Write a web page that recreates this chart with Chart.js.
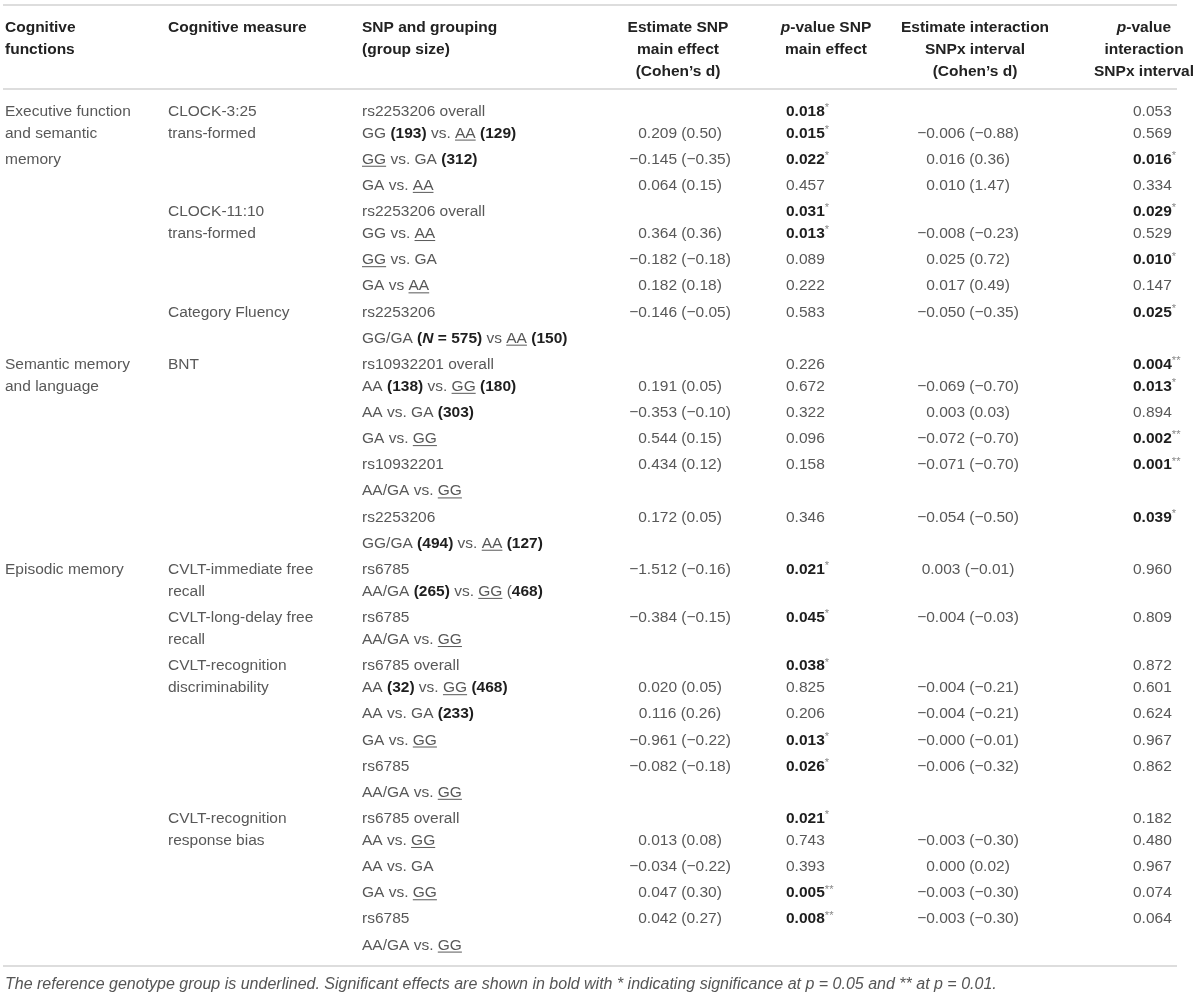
<!DOCTYPE html>
<html>
<head>
<meta charset="utf-8">
<title>CLOCK SNP table</title>
<script src="https://cdn.jsdelivr.net/npm/chart.js@4.4.1/dist/chart.umd.min.js"></script>
<style>
  html, body { margin: 0; padding: 0; background: #fff; }
</style>
</head>
<body>
<canvas id="tableChart" width="1200" height="997"></canvas>
<script>
// column headers
var headers = [
    'Cognitive\nfunctions',
    'Cognitive measure',
    'SNP and grouping\n(group size)',
    'Estimate SNP\nmain effect\n(Cohen\u2019s d)',
    '<i>p</i>-value SNP\nmain effect',
    'Estimate interaction\nSNPx interval\n(Cohen\u2019s d)',
    '<i>p</i>-value\ninteraction\nSNPx interval'
];

// first column: label and the table line it starts on
var functionLabels = ['Executive function\nand semantic\nmemory', 'Semantic memory\nand language', 'Episodic memory'];
var functionStart = [0, 10, 18];

// second column
var measureLabels = [
    'CLOCK-3:25\ntrans-formed',
    'CLOCK-11:10\ntrans-formed',
    'Category Fluency',
    'BNT',
    'CVLT-immediate free\nrecall',
    'CVLT-long-delay free\nrecall',
    'CVLT-recognition\ndiscriminability',
    'CVLT-recognition\nresponse bias'
];
var measureStart = [0, 4, 8, 10, 18, 20, 22, 28];

// one entry per table line
var groupings = [
    'rs2253206 overall',
    'GG <b>(193)</b> vs. <u>AA</u> <b>(129)</b>',
    '<u>GG</u> vs. GA <b>(312)</b>',
    'GA vs. <u>AA</u>',
    'rs2253206 overall',
    'GG vs. <u>AA</u>',
    '<u>GG</u> vs. GA',
    'GA vs <u>AA</u>',
    'rs2253206',
    'GG/GA <b>(<i>N</i> = 575)</b> vs <u>AA</u> <b>(150)</b>',
    'rs10932201 overall',
    'AA <b>(138)</b> vs. <u>GG</u> <b>(180)</b>',
    'AA vs. GA <b>(303)</b>',
    'GA vs. <u>GG</u>',
    'rs10932201',
    'AA/GA vs. <u>GG</u>',
    'rs2253206',
    'GG/GA <b>(494)</b> vs. <u>AA</u> <b>(127)</b>',
    'rs6785',
    'AA/GA <b>(265)</b> vs. <u>GG</u> (<b>468)</b>',
    'rs6785',
    'AA/GA vs. <u>GG</u>',
    'rs6785 overall',
    'AA <b>(32)</b> vs. <u>GG</u> <b>(468)</b>',
    'AA vs. GA <b>(233)</b>',
    'GA vs. <u>GG</u>',
    'rs6785',
    'AA/GA vs. <u>GG</u>',
    'rs6785 overall',
    'AA vs. <u>GG</u>',
    'AA vs. GA',
    'GA vs. <u>GG</u>',
    'rs6785',
    'AA/GA vs. <u>GG</u>'
];

var estimateMain = [
    '', '0.209 (0.50)', '\u22120.145 (\u22120.35)', '0.064 (0.15)',
    '', '0.364 (0.36)', '\u22120.182 (\u22120.18)', '0.182 (0.18)',
    '\u22120.146 (\u22120.05)', '',
    '', '0.191 (0.05)', '\u22120.353 (\u22120.10)', '0.544 (0.15)',
    '0.434 (0.12)', '', '0.172 (0.05)', '',
    '\u22121.512 (\u22120.16)', '', '\u22120.384 (\u22120.15)', '',
    '', '0.020 (0.05)', '0.116 (0.26)', '\u22120.961 (\u22120.22)',
    '\u22120.082 (\u22120.18)', '',
    '', '0.013 (0.08)', '\u22120.034 (\u22120.22)', '0.047 (0.30)',
    '0.042 (0.27)', ''
];

var pMain = [
    '0.018*', '0.015*', '0.022*', '0.457',
    '0.031*', '0.013*', '0.089', '0.222',
    '0.583', '',
    '0.226', '0.672', '0.322', '0.096',
    '0.158', '', '0.346', '',
    '0.021*', '', '0.045*', '',
    '0.038*', '0.825', '0.206', '0.013*',
    '0.026*', '',
    '0.021*', '0.743', '0.393', '0.005**',
    '0.008**', ''
];

var estimateInt = [
    '', '\u22120.006 (\u22120.88)', '0.016 (0.36)', '0.010 (1.47)',
    '', '\u22120.008 (\u22120.23)', '0.025 (0.72)', '0.017 (0.49)',
    '\u22120.050 (\u22120.35)', '',
    '', '\u22120.069 (\u22120.70)', '0.003 (0.03)', '\u22120.072 (\u22120.70)',
    '\u22120.071 (\u22120.70)', '', '\u22120.054 (\u22120.50)', '',
    '0.003 (\u22120.01)', '', '\u22120.004 (\u22120.03)', '',
    '', '\u22120.004 (\u22120.21)', '\u22120.004 (\u22120.21)', '\u22120.000 (\u22120.01)',
    '\u22120.006 (\u22120.32)', '',
    '', '\u22120.003 (\u22120.30)', '0.000 (0.02)', '\u22120.003 (\u22120.30)',
    '\u22120.003 (\u22120.30)', ''
];

var pInt = [
    '0.053', '0.569', '0.016*', '0.334',
    '0.029*', '0.529', '0.010*', '0.147',
    '0.025*', '',
    '0.004**', '0.013*', '0.894', '0.002**',
    '0.001**', '', '0.039*', '',
    '0.960', '', '0.809', '',
    '0.872', '0.601', '0.624', '0.967',
    '0.862', '',
    '0.182', '0.480', '0.967', '0.074',
    '0.064', ''
];

var footnote = '<i>The reference genotype group is underlined. Significant effects are shown in bold with * indicating significance at p = 0.05 and ** at p = 0.01.</i>';

// layout
var FONT = '"Liberation Sans", Arial, sans-serif';
var colX = [5, 168, 362, 680, 786, 968, 1133];
var colAlign = ['left', 'left', 'left', 'center', 'left', 'center', 'left'];
var headX = [5, 168, 362, 678, 826, 975, 1144];
var headAlign = ['left', 'left', 'left', 'center', 'center', 'center', 'center'];
var TIGHT = 22 / 26.15; // line gap inside a wrapped label, relative to a normal row gap

// a row whose left labels wrap onto two lines is set tighter to the next line
var tightAfter = {};
[[functionLabels, functionStart], [measureLabels, measureStart]].forEach(function(p) {
    p[0].forEach(function(lab, k) {
        if (lab.indexOf('\n') >= 0) tightAfter[p[1][k]] = true;
    });
});
var linePos = [0];
for (var i = 1; i < groupings.length; i++) {
    linePos.push(linePos[i - 1] + (tightAfter[i - 1] ? TIGHT : 1));
}

// p-values with stars are shown bold with a small grey star
function pMarkup(v) {
    var m = /^([^*]*)(\*+)$/.exec(v);
    return m ? '<b>' + m[1] + '</b><sup>' + m[2] + '</sup>' : v;
}

function multiCells(labels, starts, col) {
    var pts = [];
    labels.forEach(function(lab, k) {
        lab.split('\n').forEach(function(line, j) {
            pts.push({ x: colX[col], y: linePos[starts[k] + j], text: line });
        });
    });
    return pts;
}

function lineCells(values, col, fmt) {
    var pts = [];
    values.forEach(function(v, i) {
        if (v !== '') pts.push({ x: colX[col], y: linePos[i], text: fmt ? fmt(v) : v });
    });
    return pts;
}

function parseRich(str) {
    var segs = [], st = { b: false, u: false, i: false, sup: false };
    var re = /<(\/?)(b|u|i|sup)>/g, last = 0, m;
    function push(t) {
        if (t) segs.push({ t: t, b: st.b, u: st.u, i: st.i, sup: st.sup });
    }
    while ((m = re.exec(str))) {
        push(str.slice(last, m.index));
        st[m[2]] = !m[1];
        last = re.lastIndex;
    }
    push(str.slice(last));
    return segs;
}

function segFont(s, o) {
    var size = s.sup ? o.size * 0.72 : o.size;
    return (s.i ? 'italic ' : '') + ((s.b || o.bold) ? 'bold ' : '') + size + 'px ' + FONT;
}

function drawRich(ctx, str, x, y, align, o) {
    var segs = parseRich(str);
    var widths = segs.map(function(s) {
        ctx.font = segFont(s, o);
        return ctx.measureText(s.t).width;
    });
    var total = widths.reduce(function(a, b) { return a + b; }, 0);
    var cx = align === 'center' ? x - total / 2 : (align === 'right' ? x - total : x);
    var base = y + o.size * 0.36;
    ctx.textAlign = 'left';
    ctx.textBaseline = 'alphabetic';
    segs.forEach(function(s, k) {
        ctx.font = segFont(s, o);
        ctx.fillStyle = s.sup ? '#8a8a8a' : ((s.b || o.bold) ? o.boldColor : o.color);
        ctx.fillText(s.t, cx, s.sup ? base - o.size * 0.3 : base);
        if (s.u) {
            ctx.strokeStyle = o.color;
            ctx.lineWidth = 1;
            ctx.beginPath();
            ctx.moveTo(cx, base + 2.5);
            ctx.lineTo(cx + widths[k], base + 2.5);
            ctx.stroke();
        }
        cx += widths[k];
    });
}

var bodyStyle = { size: 15.5, color: '#585858', boldColor: '#1e1e1e', bold: false };
var headStyle = { size: 15.5, color: '#222', boldColor: '#222', bold: true };

var tablePlugin = {
    id: 'tableText',
    afterDatasetsDraw: function(chart) {
        var ctx = chart.ctx, area = chart.chartArea, xs = chart.scales.x;
        ctx.save();
        // rules
        ctx.strokeStyle = '#d2d2d2';
        ctx.lineWidth = 1.5;
        [area.top - 105, area.top - 21, area.bottom + 22].forEach(function(yy) {
            ctx.beginPath();
            ctx.moveTo(3, yy);
            ctx.lineTo(1177, yy);
            ctx.stroke();
        });
        // header
        headers.forEach(function(h, c) {
            h.split('\n').forEach(function(line, j) {
                drawRich(ctx, line, xs.getPixelForValue(headX[c]), area.top - 84 + j * 22, headAlign[c], headStyle);
            });
        });
        // body cells
        chart.data.datasets.forEach(function(ds, d) {
            var meta = chart.getDatasetMeta(d);
            meta.data.forEach(function(pt, i) {
                drawRich(ctx, ds.data[i].text, pt.x, pt.y, ds.align, bodyStyle);
            });
        });
        // footnote
        drawRich(ctx, footnote, xs.getPixelForValue(5), area.bottom + 39, 'left',
            { size: 16, color: '#555', boldColor: '#555', bold: false });
        ctx.restore();
    }
};

function cellSet(label, data, col) {
    return { label: label, data: data, align: colAlign[col], pointRadius: 0, pointHoverRadius: 0, showLine: false };
}

var ctx = document.getElementById('tableChart');
var tableChart = new Chart(ctx, {
    type: 'scatter',
    data: {
        datasets: [
            cellSet('Cognitive functions', multiCells(functionLabels, functionStart, 0), 0),
            cellSet('Cognitive measure', multiCells(measureLabels, measureStart, 1), 1),
            cellSet('SNP and grouping', lineCells(groupings, 2), 2),
            cellSet('Estimate SNP main effect', lineCells(estimateMain, 3), 3),
            cellSet('p-value SNP main effect', lineCells(pMain, 4, pMarkup), 4),
            cellSet('Estimate interaction', lineCells(estimateInt, 5), 5),
            cellSet('p-value interaction', lineCells(pInt, 6, pMarkup), 6)
        ]
    },
    options: {
        responsive: false,
        animation: false,
        events: [],
        layout: { padding: { top: 110, bottom: 53, left: 0, right: 0 } },
        plugins: { legend: { display: false }, tooltip: { enabled: false } },
        scales: {
            x: { type: 'linear', min: 0, max: 1200, display: false },
            y: { type: 'linear', min: 0, max: linePos[linePos.length - 1], reverse: true, display: false }
        }
    },
    plugins: [tablePlugin]
});
</script>
</body>
</html>
